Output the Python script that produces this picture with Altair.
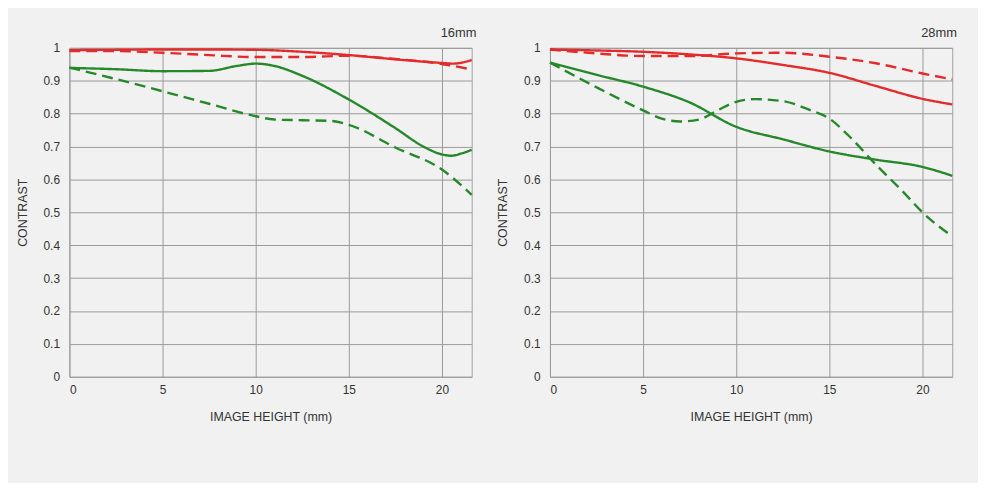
import altair as alt
import pandas as pd

# ---- data ----
x16_red_solid = [0, 2.5, 5, 7.5, 10, 12.5, 15, 17.5, 20, 20.6, 21.6]
y16_red_solid = [0.993, 0.994, 0.995, 0.995, 0.994, 0.988, 0.978, 0.965, 0.954, 0.952, 0.963]
x16_red_dash = [0, 2.5, 5, 7.5, 10, 12.5, 15, 17.5, 20, 21.6]
y16_red_dash = [0.99, 0.99, 0.985, 0.978, 0.972, 0.972, 0.976, 0.966, 0.951, 0.934]
x16_green_solid = [0, 2.5, 5, 7.5, 9, 10, 11, 12.5, 15, 17.5, 19, 20, 20.5, 21, 21.6]
y16_green_solid = [0.939, 0.935, 0.929, 0.930, 0.945, 0.952, 0.945, 0.915, 0.843, 0.756, 0.70, 0.676, 0.672, 0.678, 0.69]
x16_green_dash = [0, 2.5, 5, 7.5, 10, 11, 12.5, 14, 15, 17.5, 20, 21.6]
y16_green_dash = [0.94, 0.905, 0.868, 0.83, 0.792, 0.782, 0.78, 0.778, 0.766, 0.697, 0.63, 0.553]

x28_red_solid = [0, 2.5, 5, 7.5, 10, 12.5, 15, 17.5, 20, 21.6]
y28_red_solid = [0.995, 0.992, 0.988, 0.98, 0.968, 0.948, 0.924, 0.884, 0.845, 0.828]
x28_red_dash = [0, 2.5, 5, 7.5, 10, 12.5, 15, 17.5, 20, 21.6]
y28_red_dash = [0.995, 0.983, 0.975, 0.975, 0.983, 0.985, 0.973, 0.953, 0.922, 0.904]
x28_green_solid = [0, 2.5, 5, 7.5, 10, 12.5, 15, 17.5, 20, 21.6]
y28_green_solid = [0.955, 0.918, 0.882, 0.834, 0.76, 0.722, 0.685, 0.66, 0.638, 0.611]
x28_green_dash = [0, 2.5, 5, 6, 7, 8, 9, 10, 11, 12.5, 14, 15, 16, 17.5, 19, 20, 21.6]
y28_green_dash = [0.955, 0.88, 0.81, 0.785, 0.776, 0.782, 0.81, 0.836, 0.844, 0.838, 0.81, 0.785, 0.735, 0.645, 0.56, 0.50, 0.427]

panels = ["16mm", "28mm"]
series = ["red solid", "red dash", "green solid", "green dash"]
colors = ["#e42b2b", "#e42b2b", "#25892a", "#25892a"]
dashes = [[1, 0], [11, 6], [1, 0], [11, 6]]

x_ticks = [0, 5, 10, 15, 20]
y_ticks = [0, 0.1, 0.2, 0.3, 0.4, 0.5, 0.6, 0.7, 0.8, 0.9, 1]

raw = {
    "16mm": [(x16_red_solid, y16_red_solid), (x16_red_dash, y16_red_dash),
             (x16_green_solid, y16_green_solid), (x16_green_dash, y16_green_dash)],
    "28mm": [(x28_red_solid, y28_red_solid), (x28_red_dash, y28_red_dash),
             (x28_green_solid, y28_green_solid), (x28_green_dash, y28_green_dash)],
}

rows = []
for p in panels:
    for s, (xs, ys) in zip(series, raw[p]):
        for i, (xv, yv) in enumerate(zip(xs, ys)):
            rows.append({"panel": p, "series": s, "x": xv, "y": yv, "order": i})
df = pd.DataFrame(rows)

FONT = "Liberation Sans"
TXT = "#333333"


def panel(name):
    base = alt.Chart(df[df.panel == name])
    lines = base.mark_line(strokeWidth=2.4, interpolate="monotone").encode(
        x=alt.X("x:Q", scale=alt.Scale(domain=[0, 21.6], nice=False, zero=False),
                axis=alt.Axis(values=x_ticks, title="IMAGE HEIGHT (mm)", format="~g",
                              grid=True, gridColor="#9a9a9a", gridOpacity=1,
                              domain=False, ticks=False, labelPadding=8,
                              labelFontSize=12, labelColor=TXT,
                              titleFontSize=12.5, titleFontWeight="normal",
                              titleColor=TXT, titlePadding=15,
                              labelFont=FONT, titleFont=FONT)),
        y=alt.Y("y:Q", scale=alt.Scale(domain=[0, 1], nice=False),
                axis=alt.Axis(values=y_ticks, title="CONTRAST", format="~g",
                              grid=True, gridColor="#9a9a9a", gridOpacity=1,
                              domain=False, ticks=False, labelPadding=10,
                              labelFontSize=12, labelColor=TXT,
                              titleFontSize=12.5, titleFontWeight="normal",
                              titleColor=TXT, titlePadding=14,
                              labelFont=FONT, titleFont=FONT)),
        color=alt.Color("series:N", scale=alt.Scale(domain=series, range=colors), legend=None),
        strokeDash=alt.StrokeDash("series:N", scale=alt.Scale(domain=series, range=dashes), legend=None),
        detail="series:N",
        order="order:Q",
    )
    return lines.properties(
        width=406, height=332,
        title=alt.TitleParams(name, anchor="end", fontSize=13, fontWeight="normal",
                              color=TXT, font=FONT, offset=2),
    )


chart = alt.hconcat(panel("16mm"), panel("28mm"), spacing=18).properties(
    padding={"left": 7, "top": 16, "right": 20, "bottom": 58}
).configure(
    background="#f1f1f1"
).configure_view(stroke="#a0a0a0", strokeWidth=1)

chart.save("out.html", embed_options={"renderer": "svg", "actions": False})
